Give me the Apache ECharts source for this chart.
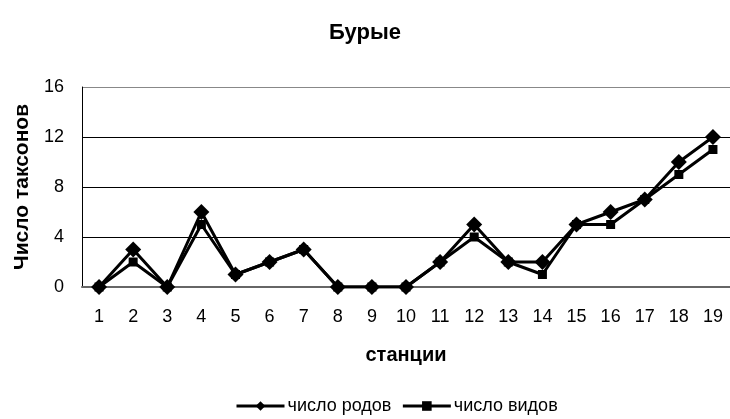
<!DOCTYPE html>
<html>
<head>
<meta charset="utf-8">
<script src="https://cdn.jsdelivr.net/npm/echarts@6/dist/echarts.min.js"></script>
<style>
html,body{margin:0;padding:0;background:#fff;}
#chart{width:730px;height:419px;}
</style>
</head>
<body>
<div id="chart"></div>
<script>
// станции
var stations = ['1','2','3','4','5','6','7','8','9','10','11','12','13','14','15','16','17','18','19'];
// число родов
var genera = [0,3,0,6,1,2,3,0,0,0,2,5,2,2,5,6,7,10,12];
// число видов
var species = [0,2,0,5,1,2,3,0,0,0,2,4,2,1,5,5,7,9,11];

var font = 'Liberation Sans, Arial, sans-serif';
var chart = echarts.init(document.getElementById('chart'));
chart.setOption({
    animation: false,
    title: {
        text: 'Бурые',
        left: 'center',
        top: 17,
        textStyle: {fontFamily: font, fontSize: 22, fontWeight: 'bold', color: '#000'}
    },
    legend: {
        top: 397,
        left: 235,
        padding: 0,
        itemWidth: 48,
        itemHeight: 12,
        itemGap: 10,
        lineStyle: {width: 3},
        textStyle: {fontFamily: font, fontSize: 18, color: '#000', padding: [0, 0, 0, -2]},
        data: ['число родов', 'число видов']
    },
    grid: {left: 82, right: 0, top: 87, bottom: 132},
    xAxis: {
        type: 'category',
        data: stations,
        boundaryGap: true,
        name: 'станции',
        nameLocation: 'middle',
        nameGap: 58,
        nameTextStyle: {fontFamily: font, fontSize: 20, fontWeight: 'bold', color: '#000'},
        axisLine: {lineStyle: {color: '#666', width: 2}},
        axisTick: {inside: true, length: 6, lineStyle: {color: '#000'}},
        axisLabel: {fontFamily: font, fontSize: 18, color: '#000', margin: 21}
    },
    yAxis: {
        type: 'value',
        min: 0,
        max: 16,
        interval: 4,
        name: 'Число таксонов',
        nameLocation: 'middle',
        nameGap: 48,
        nameTextStyle: {fontFamily: font, fontSize: 21, fontWeight: 'bold', color: '#000'},
        axisLine: {show: true, lineStyle: {color: '#000', width: 1}},
        axisTick: {show: false},
        axisLabel: {fontFamily: font, fontSize: 18, color: '#000', margin: 18},
        splitLine: {lineStyle: {color: ['#000', '#000', '#000', '#000', '#888'], width: 1}}
    },
    series: [
        {
            name: 'число родов',
            type: 'line',
            data: genera,
            symbol: 'diamond',
            symbolSize: 16,
            itemStyle: {color: '#000'},
            lineStyle: {color: '#000', width: 3},
            z: 3
        },
        {
            name: 'число видов',
            type: 'line',
            data: species,
            symbol: 'rect',
            symbolSize: 9,
            itemStyle: {color: '#000'},
            lineStyle: {color: '#000', width: 3},
            z: 2
        }
    ]
});
</script>
</body>
</html>
